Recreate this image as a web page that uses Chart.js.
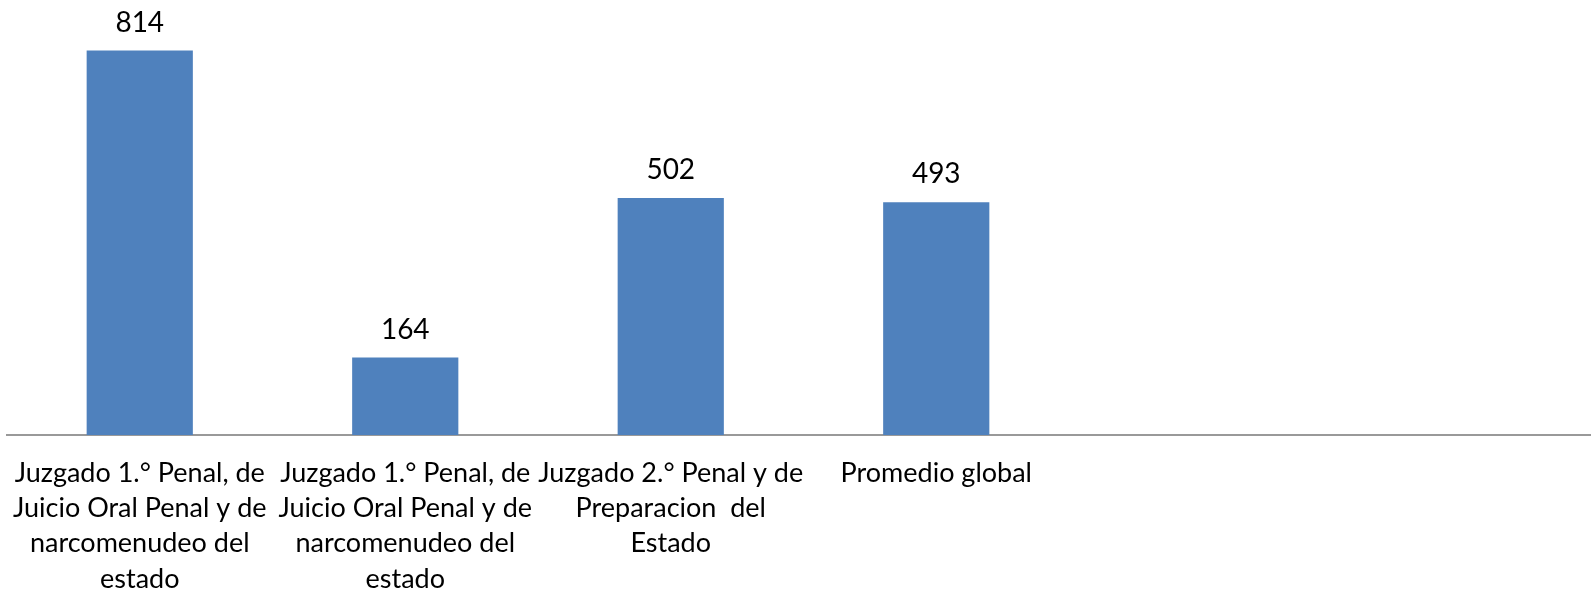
<!DOCTYPE html>
<html>
<head>
<meta charset="utf-8">
<script src="https://cdn.jsdelivr.net/npm/chart.js@4/dist/chart.umd.min.js"></script>
<style>
    html, body { margin: 0; padding: 0; background: #fff; overflow: hidden; }
    #wrap { position: relative; width: 1600px; height: 593px; }
</style>
</head>
<body>
<div id="wrap"><canvas id="grafico"></canvas></div>
<script>
// Datos del grafico
const categorias = [
    ['Juzgado 1.° Penal, de', 'Juicio Oral Penal y de', 'narcomenudeo del', 'estado'],
    ['Juzgado 1.° Penal, de', 'Juicio Oral Penal y de', 'narcomenudeo del', 'estado'],
    ['Juzgado 2.° Penal y de', 'Preparacion  del', 'Estado'],
    'Promedio global',
    '',
    ''
];
const valores = [814, 164, 502, 493, null, null];

const fuente = 'Lato, "Noto Sans", sans-serif';

// Etiquetas de valor encima de cada barra
const etiquetasValor = {
    id: 'etiquetasValor',
    afterDatasetsDraw(chart) {
        const ctx = chart.ctx;
        const meta = chart.getDatasetMeta(0);
        ctx.save();
        ctx.font = '28px ' + fuente;
        ctx.fillStyle = '#000';
        ctx.textAlign = 'center';
        ctx.textBaseline = 'alphabetic';
        meta.data.forEach(function(bar, i) {
            if (valores[i] == null) return;
            ctx.fillText(String(valores[i]), bar.x, bar.y - 19);
        });
        ctx.restore();
    }
};

const ctx = document.getElementById('grafico').getContext('2d');
const grafico = new Chart(ctx, {
    type: 'bar',
    data: {
        labels: categorias,
        datasets: [{
            data: valores,
            backgroundColor: '#4f81bd',
            borderWidth: 0,
            barPercentage: 1,
            categoryPercentage: 0.4
        }]
    },
    options: {
        responsive: true,
        maintainAspectRatio: false,
        animation: false,
        layout: {
            padding: { left: 7, top: 10, right: 0, bottom: 0 }
        },
        plugins: {
            legend: { display: false },
            tooltip: { enabled: false }
        },
        scales: {
            y: {
                display: false,
                min: 0,
                max: 900
            },
            x: {
                grid: { display: false },
                border: { display: true, color: '#999', width: 2 },
                afterFit: function(scale) {
                    scale.height = 158;
                    // sin relleno extra por las etiquetas de los extremos
                    scale.paddingLeft = 0;
                    scale.paddingRight = 0;
                },
                ticks: {
                    autoSkip: false,
                    maxRotation: 0,
                    padding: 13,
                    color: '#000',
                    font: { size: 27, family: fuente, lineHeight: 1.3 }
                }
            }
        }
    },
    plugins: [etiquetasValor]
});
</script>
</body>
</html>
